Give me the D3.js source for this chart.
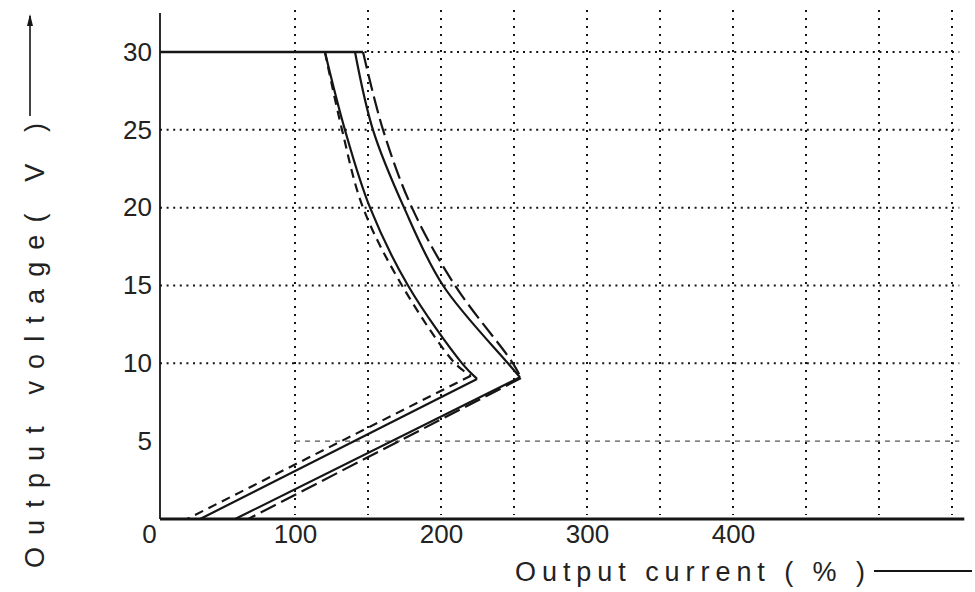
<!DOCTYPE html>
<html>
<head>
<meta charset="utf-8">
<script src="https://cdn.jsdelivr.net/npm/d3@7"></script>
<style>
  html, body { margin: 0; padding: 0; background: #fff; }
  svg { display: block; }
  text { font-family: "Liberation Sans", Arial, sans-serif; fill: #222; }
</style>
</head>
<body>
<svg id="chart" width="975" height="592"></svg>
<script>
// ---------- data ----------
const xTickValues = [0, 100, 200, 300, 400];          // labelled current ticks (%)
const xGridValues = [100, 150, 200, 250, 300, 350, 400, 450, 500, 550];
const yTickValues = [5, 10, 15, 20, 25, 30];           // voltage ticks (V)
const yTickLabels = ["5", "10", "15", "20", "25", "30"];

// current (%) at each voltage for the upper (constant-power like) branch
const upperVoltages = [30, 25, 20, 15, 10];
const leftDashedUpper  = [120.5, 132.2, 146.6, 173.3, 209.6];
const leftSolidUpper   = [120.5, 134.2, 151.4, 177.4, 214.4];
const rightSolidUpper  = [141.1, 153.4, 174.7, 201.4, 245.9];
const rightDashedUpper = [146.6, 160.3, 180.1, 209.6, 249.3];

// knee point [current, voltage] and short-circuit current at 0 V
const leftDashedKnee  = [220.5, 9.2];
const leftSolidKnee   = [224.7, 9.0];
const rightSolidKnee  = [254.1, 9.1];
const rightDashedKnee = [254.8, 9.05];
const leftDashedZero  = 26;
const leftSolidZero   = 35;
const rightSolidZero  = 59;
const rightDashedZero = 68;

const flatTopEnd = 146.6;   // solid 30 V line runs from the axis to here

// ---------- layout ----------
const svg = d3.select("#chart");
const x = d3.scaleLinear().domain([0, 550]).range([149, 952]);
const y = d3.scaleLinear().domain([0, 30]).range([519, 52]);
const yTop = 32.7;
const xRight = 555;
const axisPx = x(0) + 11;   // scanned drawing: axis line sits a little right of the "0" label

const ink = "#151515";

// vertical dotted grid
svg.append("g").selectAll("line").data(xGridValues).join("line")
  .attr("x1", d => x(d)).attr("x2", d => x(d))
  .attr("y1", y(yTop)).attr("y2", y(0) - 4)
  .attr("stroke", ink).attr("stroke-width", 2)
  .attr("stroke-dasharray", "2,6");

// horizontal dotted grid
svg.append("g").selectAll("line").data(yTickValues.filter(v => v !== 5)).join("line")
  .attr("x1", axisPx).attr("x2", x(xRight))
  .attr("y1", d => y(d)).attr("y2", d => y(d))
  .attr("stroke", ink).attr("stroke-width", 2)
  .attr("stroke-dasharray", "2,4.6");

// the faint 5 V line
svg.append("line")
  .attr("x1", x(100)).attr("x2", x(xRight))
  .attr("y1", y(5)).attr("y2", y(5))
  .attr("stroke", "#555").attr("stroke-width", 1.1)
  .attr("stroke-dasharray", "5,5");

// axes lines
svg.append("line")
  .attr("x1", axisPx).attr("x2", axisPx)
  .attr("y1", y(32.5)).attr("y2", y(0))
  .attr("stroke", ink).attr("stroke-width", 1.8);
svg.append("line")
  .attr("x1", axisPx).attr("x2", x(xRight) + 5)
  .attr("y1", y(0)).attr("y2", y(0))
  .attr("stroke", ink).attr("stroke-width", 2.8);

// flat 30 V limit
svg.append("line")
  .attr("x1", axisPx).attr("x2", x(flatTopEnd))
  .attr("y1", y(30)).attr("y2", y(30))
  .attr("stroke", ink).attr("stroke-width", 2.6);

// ---------- curves ----------
const series = [
  { upper: leftDashedUpper,  knee: leftDashedKnee,  zero: leftDashedZero,  dash: "9,6" },
  { upper: leftSolidUpper,   knee: leftSolidKnee,   zero: leftSolidZero,   dash: null },
  { upper: rightSolidUpper,  knee: rightSolidKnee,  zero: rightSolidZero,  dash: null },
  { upper: rightDashedUpper, knee: rightDashedKnee, zero: rightDashedZero, dash: "17,6" }
];

const curveUpper = d3.line().x(d => x(d[0])).y(d => y(d[1])).curve(d3.curveCatmullRom.alpha(0.5));
const lineLower  = d3.line().x(d => x(d[0])).y(d => y(d[1]));

series.forEach(s => {
  const up = s.upper.map((c, i) => [c, upperVoltages[i]]).concat([s.knee]);
  const low = [s.knee, [s.zero, 0]];
  const g = svg.append("g")
    .attr("fill", "none").attr("stroke", ink).attr("stroke-width", 2.2)
    .attr("stroke-linejoin", "miter");
  if (s.dash) g.attr("stroke-dasharray", s.dash);
  g.append("path").attr("d", curveUpper(up));
  g.append("path").attr("d", lineLower(low));
});

// ---------- tick labels ----------
const yAxis = d3.axisLeft(y).tickValues(yTickValues)
  .tickFormat((d, i) => yTickLabels[i]).tickSize(0).tickPadding(8);
svg.append("g").attr("transform", `translate(${axisPx},0)`).call(yAxis)
  .call(g => g.select(".domain").remove())
  .selectAll("text").style("font-size", "26px").attr("fill", "#2a2a2a")
  .attr("font-family", "Liberation Sans, Arial, sans-serif");

const xAxis = d3.axisBottom(x).tickValues(xTickValues)
  .tickFormat(d => String(d)).tickSize(0).tickPadding(6);
svg.append("g").attr("transform", `translate(0,${y(0)})`).call(xAxis)
  .call(g => g.select(".domain").remove())
  .selectAll("text").style("font-size", "26px").attr("fill", "#2a2a2a")
  .attr("font-family", "Liberation Sans, Arial, sans-serif");

// ---------- axis titles ----------
svg.append("text")
  .attr("x", 515).attr("y", 581)
  .attr("textLength", 350).attr("lengthAdjust", "spacing")
  .style("font-size", "27px")
  .text("Output current ( % )");
svg.append("line")
  .attr("x1", 874).attr("x2", 972).attr("y1", 571).attr("y2", 571)
  .attr("stroke", ink).attr("stroke-width", 1.8);

svg.append("text")
  .attr("transform", "translate(44,568) rotate(-90)")
  .attr("textLength", 445).attr("lengthAdjust", "spacing")
  .style("font-size", "27px")
  .text("Output voltage( V )");
svg.append("line")
  .attr("x1", 30).attr("x2", 30).attr("y1", 116).attr("y2", 16)
  .attr("stroke", ink).attr("stroke-width", 1.6);
svg.append("path")
  .attr("d", "M30,14 L27,26 L33,26 Z")
  .attr("fill", ink);
</script>
</body>
</html>
